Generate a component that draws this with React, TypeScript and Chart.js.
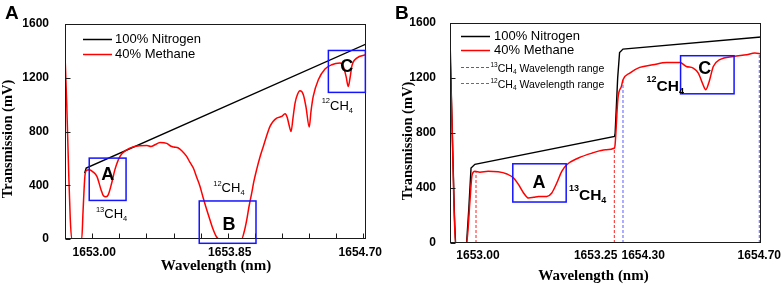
import React, { useEffect, useRef } from "react";
import { Chart, registerables } from "chart.js";

Chart.register(...registerables);

// ---------------- Panel A data ----------------
const aWavelength = [
  1652.829, 1652.84, 1652.852, 1652.862, 1652.871, 1652.934, 1652.942, 1652.954, 1652.964, 1652.981,
  1653.004, 1653.029, 1653.055, 1653.07, 1653.086, 1653.1, 1653.122, 1653.142, 1653.174, 1653.216,
  1653.255, 1653.299, 1653.343, 1653.368, 1653.393, 1653.425, 1653.467, 1653.494, 1653.512, 1653.54,
  1653.563, 1653.592, 1653.613, 1653.634, 1653.655, 1653.676, 1653.696, 1653.718, 1653.738, 1653.759,
  1653.78, 1653.795, 1653.937, 1653.952, 1653.969, 1653.983, 1654.0, 1654.014, 1654.031, 1654.052,
  1654.073, 1654.093, 1654.115, 1654.134, 1654.157, 1654.188, 1654.209, 1654.223, 1654.234, 1654.247,
  1654.259, 1654.272, 1654.287, 1654.303, 1654.324, 1654.341, 1654.361, 1654.372, 1654.386, 1654.418,
  1654.46, 1654.502, 1654.554, 1654.575, 1654.592, 1654.606, 1654.617, 1654.629, 1654.659, 1654.717,
];
const aMethane = [
  1370, 1000, 500, 150, 0, 0, 200, 470, 510, 515,
  500, 466, 367, 322, 315, 328, 417, 516, 615, 664,
  685, 694, 696, 688, 701, 719, 712, 690, 684, 677,
  655, 615, 570, 528, 460, 391, 305, 218, 143, 69,
  15, 0, 0, 50, 143, 240, 342, 430, 516, 610,
  689, 765, 838, 875, 900, 912, 932, 905, 850, 800,
  900, 1012, 1075, 1103, 1074, 980, 833, 950, 1061, 1185,
  1265, 1297, 1309, 1284, 1210, 1135, 1200, 1290, 1346, 1371,
];
const aNitrogenWavelength = [1652.952, 1652.962, 1654.717];
const aNitrogen = [490, 528, 1451];

const aXMin = 1652.829;
const aXMax = 1654.717;
const aTickValues = [1653.0, 1653.17, 1653.34, 1653.51, 1653.68, 1653.85, 1654.02, 1654.19, 1654.36, 1654.53, 1654.7];
const aTickLabels = ["1653.00", "", "", "", "", "1653.85", "", "", "", "", "1654.70"];
const yTickValues = [0, 400, 800, 1200, 1600];

const aBoxLabels = ["A", "B", "C"];
const aBoxStart = [1652.981, 1653.671, 1654.481];
const aBoxEnd = [1653.212, 1654.027, 1654.713];
const aBoxLow = [287, -32, 1091];
const aBoxHigh = [602, 283, 1403];
const aBoxLetterWl = [1653.097, 1653.858, 1654.596];
const aBoxLetterVal = [486, 114, 1287];

const aChemIsotope = ["13", "12", "12"];
const aChemWl = [1653.023, 1653.759, 1654.439];
const aChemVal = [156, 347, 962];

// ---------------- Panel B data ----------------
const bWavelength = [
  1652.953, 1652.9565, 1652.96, 1652.963, 1652.983, 1652.986, 1652.989, 1652.993, 1652.998, 1653.007,
  1653.022, 1653.04, 1653.056, 1653.068, 1653.077, 1653.086, 1653.095, 1653.104, 1653.113, 1653.128,
  1653.137, 1653.146, 1653.155, 1653.164, 1653.185, 1653.21, 1653.234, 1653.2505, 1654.277, 1654.2853,
  1654.2953, 1654.3, 1654.32, 1654.349, 1654.388, 1654.428, 1654.467, 1654.486, 1654.506, 1654.521,
  1654.535, 1654.543, 1654.553, 1654.565, 1654.584, 1654.624, 1654.663, 1654.687, 1654.705,
];
const bMethane = [
  1381, 900, 300, 0, 0, 120, 302, 497, 521, 515,
  521, 518, 502, 473, 424, 364, 327, 332, 339, 339,
  364, 436, 521, 569, 618, 654, 678, 691, 720, 1054,
  1139, 1187, 1236, 1277, 1296, 1313, 1313, 1284, 1272, 1236,
  1151, 1115, 1175, 1284, 1333, 1357, 1369, 1381, 1375,
];
const bNitrogenWavelength = [
  1652.953, 1652.9565, 1652.961, 1652.963, 1652.983, 1652.987, 1652.991, 1652.998, 1653.2505,
  1654.277, 1654.2844, 1654.29, 1654.3, 1654.705,
];
const bNitrogen = [1500, 900, 200, 0, 0, 250, 545, 572, 775, 800, 1200, 1385, 1410, 1498];

// wavelength ranges marked with dashed lines
const b13RangeWl = [1653.0, 1653.25];
const b13RangeTop = [521, 691];
const b12RangeWl = [1654.3, 1654.7];
const b12RangeTop = [1187, 1378];

const bTickValues = [1653.0, 1653.25, 1654.3, 1654.7];
const bTickLabels = ["1653.00", "1653.25", "1654.30", "1654.70"];

const bBoxLabels = ["A", "C"];
const bBoxStart = [1653.0665, 1654.469];
const bBoxEnd = [1653.163, 1654.626];
const bBoxLow = [298, 1085];
const bBoxHigh = [576, 1362];
const bBoxLetterWl = [1653.114, 1654.54];
const bBoxLetterVal = [442, 1274];

const bChemIsotope = ["13", "12"];
const bChemWl = [1653.168, 1654.369];
const bChemVal = [315, 1107];

// broken x axis of panel B: two wavelength segments placed side by side
const bSegFrom = [1652.953, 1654.277];
const bSegTo = [1653.2515, 1654.705];
const bSegRate = [552, 340]; // axis units per nm in each segment

function bAxis(w: number): number {
  let offset = 0;
  for (let i = 0; i < bSegFrom.length; i++) {
    const len = (bSegTo[i] - bSegFrom[i]) * bSegRate[i];
    if (w <= bSegTo[i] || i === bSegFrom.length - 1) {
      return offset + (w - bSegFrom[i]) * bSegRate[i];
    }
    offset += len;
  }
  return offset;
}
const bAxisMax = bAxis(bSegTo[1]);

// ---------------- drawing helpers ----------------
const SANS = '"Liberation Sans", Arial, sans-serif';
const SERIF = '"Liberation Serif", "Times New Roman", serif';
const BLUE = "#1414ff";

function hline(ctx: CanvasRenderingContext2D, x0: number, x1: number, y: number, color: string, width: number, dash: number[] = []) {
  ctx.save();
  ctx.strokeStyle = color;
  ctx.lineWidth = width;
  ctx.setLineDash(dash);
  ctx.beginPath();
  ctx.moveTo(x0, y);
  ctx.lineTo(x1, y);
  ctx.stroke();
  ctx.restore();
}

function chem(
  ctx: CanvasRenderingContext2D, x: number, y: number, sup: string, size: number, small: number,
  bold: boolean, supRise: number, subDrop: number
) {
  const w = bold ? "bold " : "";
  ctx.save();
  ctx.fillStyle = "#000";
  ctx.textAlign = "left";
  ctx.textBaseline = "alphabetic";
  ctx.font = `${w}${small}px ${SANS}`;
  ctx.fillText(sup, x, y - supRise);
  let cx = x + ctx.measureText(sup).width;
  ctx.font = `${w}${size}px ${SANS}`;
  ctx.fillText("CH", cx, y);
  cx += ctx.measureText("CH").width;
  ctx.font = `${w}${small}px ${SANS}`;
  ctx.fillText("4", cx, y + subDrop);
  cx += ctx.measureText("4").width;
  ctx.restore();
  return cx;
}

function drawFrame(chart: any, xTicks: boolean) {
  const { ctx, chartArea: ca, scales } = chart;
  const L = Math.round(ca.left) + 0.5;
  const R = Math.round(ca.right) - 0.5;
  const T = Math.round(ca.top) + 0.5;
  const B = Math.round(ca.bottom) - 0.5;
  ctx.save();
  ctx.strokeStyle = "#1a1a1a";
  ctx.lineWidth = 1;
  ctx.strokeRect(L, T, R - L, B - T);
  ctx.beginPath();
  if (xTicks) {
    scales.x.ticks.forEach((t: any) => {
      const p = Math.round(scales.x.getPixelForValue(t.value)) + 0.5;
      ctx.moveTo(p, B);
      ctx.lineTo(p, B - 5);
    });
  }
  scales.y.ticks.forEach((t: any) => {
    const p = Math.round(scales.y.getPixelForValue(t.value)) + 0.5;
    ctx.moveTo(L, p);
    ctx.lineTo(L + 5, p);
  });
  ctx.stroke();
  ctx.restore();
}

function drawBoxes(chart: any, xs: number[], xe: number[], lo: number[], hi: number[], lx: number[], ly: number[], labels: string[]) {
  const { ctx, scales } = chart;
  ctx.save();
  ctx.strokeStyle = BLUE;
  ctx.lineWidth = 1.5;
  for (let i = 0; i < labels.length; i++) {
    const x0 = scales.x.getPixelForValue(xs[i]);
    const x1 = scales.x.getPixelForValue(xe[i]);
    const y0 = scales.y.getPixelForValue(hi[i]);
    const y1 = scales.y.getPixelForValue(lo[i]);
    ctx.strokeRect(x0, y0, x1 - x0, y1 - y0);
  }
  ctx.fillStyle = "#000";
  ctx.font = `bold 18px ${SANS}`;
  ctx.textAlign = "center";
  ctx.textBaseline = "middle";
  for (let i = 0; i < labels.length; i++) {
    ctx.fillText(labels[i], scales.x.getPixelForValue(lx[i]), scales.y.getPixelForValue(ly[i]) + 1);
  }
  ctx.restore();
}

function drawTitles(ctx: CanvasRenderingContext2D, letter: string, yx: number, yy: number, xx: number, xy: number) {
  ctx.save();
  ctx.fillStyle = "#000";
  ctx.font = `bold 19px ${SANS}`;
  ctx.textAlign = "left";
  ctx.textBaseline = "alphabetic";
  ctx.fillText(letter, 5, 18.5);
  ctx.font = `bold 15px ${SERIF}`;
  ctx.textAlign = "center";
  ctx.fillText("Wavelength (nm)", xx, xy);
  ctx.translate(yx, yy);
  ctx.rotate(-Math.PI / 2);
  ctx.textBaseline = "middle";
  ctx.font = `bold 14.5px ${SERIF}`;
  ctx.fillText("Transmission (mV)", 0, 0);
  ctx.restore();
}

function legendText(ctx: CanvasRenderingContext2D, text: string, x: number, y: number) {
  ctx.save();
  ctx.fillStyle = "#000";
  ctx.font = `13px ${SANS}`;
  ctx.textAlign = "left";
  ctx.textBaseline = "middle";
  ctx.fillText(text, x, y);
  ctx.restore();
}

function xTickText(ctx: CanvasRenderingContext2D, text: string, x: number, y: number, align: CanvasTextAlign) {
  ctx.save();
  ctx.fillStyle = "#000";
  ctx.font = `bold 12px ${SANS}`;
  ctx.textBaseline = "alphabetic";
  ctx.textAlign = align;
  ctx.fillText(text, x, y);
  ctx.restore();
}

const overlayA = {
  id: "overlayA",
  afterDraw(chart: any) {
    const { ctx, scales } = chart;
    drawFrame(chart, true);
    const shiftA = [2, 2, -3];
    let k = 0;
    for (let i = 0; i < aTickValues.length; i++) {
      if (!aTickLabels[i]) continue;
      xTickText(ctx, aTickLabels[i], scales.x.getPixelForValue(aTickValues[i]) + shiftA[k++], 256, "center");
    }
    drawBoxes(chart, aBoxStart, aBoxEnd, aBoxLow, aBoxHigh, aBoxLetterWl, aBoxLetterVal, aBoxLabels);
    for (let i = 0; i < aChemIsotope.length; i++) {
      chem(ctx, scales.x.getPixelForValue(aChemWl[i]), scales.y.getPixelForValue(aChemVal[i]), aChemIsotope[i], 13, 7.5, false, 6.5, 3);
    }
    hline(ctx, 83, 112, 39.5, "#000", 1.5);
    legendText(ctx, "100% Nitrogen", 115, 39.5);
    hline(ctx, 83, 112, 54.5, "#ff0000", 1.5);
    legendText(ctx, "40% Methane", 115, 54.5);
    drawTitles(ctx, "A", 8.5, 139, 216, 269.5);
  },
};

const overlayB = {
  id: "overlayB",
  afterDraw(chart: any) {
    const { ctx, scales } = chart;
    drawFrame(chart, false);
    // x tick labels of the broken axis
    const aligns: CanvasTextAlign[] = ["center", "right", "left", "center"];
    const shift = [2, 3, -1.5, 0];
    for (let i = 0; i < bTickValues.length; i++) {
      xTickText(ctx, bTickLabels[i], scales.x.getPixelForValue(bAxis(bTickValues[i])) + shift[i], 258.5, aligns[i]);
    }
    const bx = (w: number) => scales.x.getPixelForValue(bAxis(w));
    drawBoxes(
      { ctx, scales: { x: { getPixelForValue: bx }, y: scales.y } },
      bBoxStart, bBoxEnd, bBoxLow, bBoxHigh, bBoxLetterWl, bBoxLetterVal, bBoxLabels
    );
    for (let i = 0; i < bChemIsotope.length; i++) {
      chem(ctx, bx(bChemWl[i]), scales.y.getPixelForValue(bChemVal[i]), bChemIsotope[i], 15.5, 9, true, 8.3, 3.3);
    }
    hline(ctx, 71, 100, 36.5, "#000", 1.5);
    legendText(ctx, "100% Nitrogen", 104, 36.5);
    hline(ctx, 71, 100, 50.5, "#ff0000", 1.5);
    legendText(ctx, "40% Methane", 104, 50.5);
    hline(ctx, 71, 99, 67.5, "#ff2020", 1, [3, 2]);
    let ex = chem(ctx, 100.5, 71.5, "13", 10.5, 6.5, false, 4.5, 2.2);
    ctx.save();
    ctx.font = `10.5px ${SANS}`;
    ctx.fillStyle = "#000";
    ctx.fillText(" Wavelength range", ex, 71.5);
    ctx.restore();
    hline(ctx, 71, 99, 83.5, "#5a5aff", 1, [3, 2]);
    ex = chem(ctx, 100.5, 87.5, "12", 10.5, 6.5, false, 4.5, 2.2);
    ctx.save();
    ctx.font = `10.5px ${SANS}`;
    ctx.fillStyle = "#000";
    ctx.fillText(" Wavelength range", ex, 87.5);
    ctx.restore();
    drawTitles(ctx, "B", 18.5, 141, 203.5, 279.5);
  },
};

const tickFont = { family: SANS, size: 12, weight: "bold" as const };
const yTickCallback = (v: any) => String(v);

function configA(): any {
  return {
    type: "line",
    data: {
      datasets: [
        {
          label: "40% Methane",
          data: aWavelength.map((x, i) => ({ x, y: aMethane[i] })),
          borderColor: "#ff0000",
          borderWidth: 1.5,
          pointRadius: 0,
          cubicInterpolationMode: "monotone",
          fill: false,
          order: 1,
        },
        {
          label: "100% Nitrogen",
          data: aNitrogenWavelength.map((x, i) => ({ x, y: aNitrogen[i] })),
          borderColor: "#000000",
          borderWidth: 1.4,
          pointRadius: 0,
          tension: 0,
          fill: false,
          order: 2,
        },
      ],
    },
    options: {
      animation: false,
      responsive: false,
      events: [],
      layout: { padding: { left: 0, right: 24, top: 24, bottom: 0 } },
      plugins: { legend: { display: false }, tooltip: { enabled: false } },
      scales: {
        x: {
          type: "linear",
          min: aXMin,
          max: aXMax,
          afterBuildTicks: (s: any) => {
            s.ticks = aTickValues.map((v) => ({ value: v }));
          },
          afterFit: (s: any) => {
            s.height = 46;
          },
          grid: { display: false },
          border: { display: false },
          ticks: { display: false },
        },
        y: {
          type: "linear",
          min: 0,
          max: 1600,
          afterBuildTicks: (s: any) => {
            s.ticks = yTickValues.map((v) => ({ value: v }));
          },
          afterFit: (s: any) => {
            s.width = 65;
          },
          grid: { display: false },
          border: { display: false },
          ticks: { padding: 8, color: "#000", font: tickFont, callback: yTickCallback },
        },
      },
    },
    plugins: [overlayA],
  };
}

function configB(): any {
  const gap = { x: NaN, y: null };
  return {
    type: "line",
    data: {
      datasets: [
        {
          label: "40% Methane",
          data: bWavelength.map((w, i) => ({ x: bAxis(w), y: bMethane[i] })),
          borderColor: "#ff0000",
          borderWidth: 1.5,
          pointRadius: 0,
          cubicInterpolationMode: "monotone",
          fill: false,
          order: 1,
        },
        {
          label: "100% Nitrogen",
          data: bNitrogenWavelength.map((w, i) => ({ x: bAxis(w), y: bNitrogen[i] })),
          borderColor: "#000000",
          borderWidth: 1.4,
          pointRadius: 0,
          tension: 0,
          fill: false,
          order: 2,
        },
        {
          label: "13CH4 Wavelength range",
          data: [
            { x: bAxis(b13RangeWl[0]), y: 0 }, { x: bAxis(b13RangeWl[0]), y: b13RangeTop[0] }, gap,
            { x: bAxis(b13RangeWl[1]), y: 0 }, { x: bAxis(b13RangeWl[1]), y: b13RangeTop[1] },
          ],
          borderColor: "#ff2020",
          borderWidth: 1,
          borderDash: [3, 2],
          pointRadius: 0,
          spanGaps: false,
          fill: false,
          order: 3,
        },
        {
          label: "12CH4 Wavelength range",
          data: [
            { x: bAxis(b12RangeWl[0]), y: 0 }, { x: bAxis(b12RangeWl[0]), y: b12RangeTop[0] }, gap,
            { x: bAxis(b12RangeWl[1]), y: 0 }, { x: bAxis(b12RangeWl[1]), y: b12RangeTop[1] },
          ],
          borderColor: "#5a5aff",
          borderWidth: 1,
          borderDash: [3, 2],
          pointRadius: 0,
          spanGaps: false,
          fill: false,
          order: 3,
        },
      ],
    },
    options: {
      animation: false,
      responsive: false,
      events: [],
      layout: { padding: { left: 0, right: 21, top: 23, bottom: 0 } },
      plugins: { legend: { display: false }, tooltip: { enabled: false } },
      scales: {
        x: {
          type: "linear",
          min: 0,
          max: bAxisMax,
          afterFit: (s: any) => {
            s.height = 42;
          },
          grid: { display: false },
          border: { display: false },
          ticks: { display: false },
        },
        y: {
          type: "linear",
          min: 0,
          max: 1600,
          afterBuildTicks: (s: any) => {
            s.ticks = yTickValues.map((v) => ({ value: v }));
          },
          afterFit: (s: any) => {
            s.width = 60;
          },
          grid: { display: false },
          border: { display: false },
          ticks: { padding: 6, color: "#000", font: tickFont, callback: yTickCallback },
        },
      },
    },
    plugins: [overlayB],
  };
}

export default function App() {
  const refA = useRef<HTMLCanvasElement>(null);
  const refB = useRef<HTMLCanvasElement>(null);
  useEffect(() => {
    const a = new Chart(refA.current as HTMLCanvasElement, configA());
    const b = new Chart(refB.current as HTMLCanvasElement, configB());
    return () => {
      a.destroy();
      b.destroy();
    };
  }, []);
  return (
    <div style={{ position: "fixed", left: 0, top: 0, width: 782, height: 285, background: "#fff" }}>
      <canvas ref={refA} width={390} height={285} style={{ position: "absolute", left: 0, top: 0, width: 390, height: 285 }} />
      <canvas ref={refB} width={392} height={285} style={{ position: "absolute", left: 390, top: 0, width: 392, height: 285 }} />
    </div>
  );
}
